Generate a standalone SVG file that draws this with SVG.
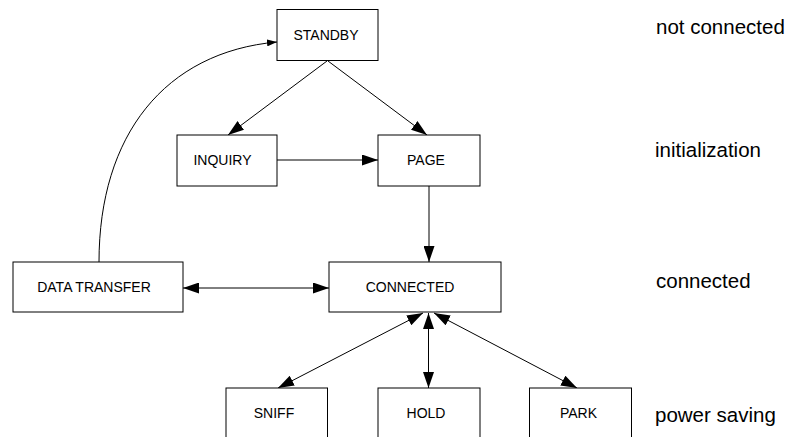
<svg xmlns="http://www.w3.org/2000/svg" width="785" height="437" viewBox="0 0 785 437">
  <style>
    .box { fill: #fff; stroke: #000; stroke-width: 1; }
    .lbl { font-family: "Liberation Sans", Arial, sans-serif; font-size: 14px; fill: #000; text-anchor: middle; }
    .side { font-family: "Liberation Sans", Arial, sans-serif; font-size: 20.5px; fill: #000; }
    .edge { fill: none; stroke: #000; stroke-width: 1; }
  </style>
  <defs>
    <marker id="arr" markerUnits="userSpaceOnUse" markerWidth="16" markerHeight="11" refX="16" refY="5.5" orient="auto-start-reverse">
      <path d="M0,0 L16,5.5 L0,11 z" fill="#000"/>
    </marker>
    <marker id="arr-small" markerUnits="userSpaceOnUse" markerWidth="10" markerHeight="7" refX="10" refY="3.5" orient="auto">
      <path d="M0,0 L10,3.5 L0,7 z" fill="#000"/>
    </marker>
  </defs>
  <rect width="785" height="437" fill="#fff"/>

  <!-- connectors -->
  <g id="connectors">
    <path class="edge" d="M99,262 C99,135 165,52 277,42" marker-end="url(#arr-small)"/>
    <line class="edge" x1="327" y1="61" x2="228" y2="135" marker-end="url(#arr)"/>
    <line class="edge" x1="328" y1="61" x2="427" y2="135" marker-end="url(#arr)"/>
    <line class="edge" x1="277" y1="160" x2="378" y2="160" marker-end="url(#arr)"/>
    <line class="edge" x1="429" y1="186" x2="429" y2="262" marker-end="url(#arr)"/>
    <line class="edge" x1="183" y1="288" x2="329" y2="288" marker-start="url(#arr)" marker-end="url(#arr)"/>
    <line class="edge" x1="423" y1="313" x2="278" y2="388" marker-start="url(#arr)" marker-end="url(#arr)"/>
    <line class="edge" x1="428.5" y1="313" x2="428.5" y2="388" marker-start="url(#arr)" marker-end="url(#arr)"/>
    <line class="edge" x1="434" y1="313" x2="577" y2="388" marker-start="url(#arr)" marker-end="url(#arr)"/>
  </g>

  <!-- states -->
  <g id="standby">
    <rect class="box" x="277" y="9.5" width="101" height="51"/>
    <text class="lbl" x="326" y="39.5">STANDBY</text>
  </g>
  <g id="inquiry">
    <rect class="box" x="177" y="135" width="100" height="51"/>
    <text class="lbl" x="222.5" y="164.5">INQUIRY</text>
  </g>
  <g id="page">
    <rect class="box" x="378" y="135" width="102" height="51"/>
    <text class="lbl" x="426" y="164.5">PAGE</text>
  </g>
  <g id="data-transfer">
    <rect class="box" x="13" y="262" width="170" height="50"/>
    <text class="lbl" x="94" y="292">DATA TRANSFER</text>
  </g>
  <g id="connected">
    <rect class="box" x="329" y="262" width="172" height="50"/>
    <text class="lbl" x="410" y="292">CONNECTED</text>
  </g>
  <g id="sniff">
    <rect class="box" x="226" y="388" width="101.5" height="52"/>
    <text class="lbl" x="274" y="417.5">SNIFF</text>
  </g>
  <g id="hold">
    <rect class="box" x="378" y="388" width="102" height="52"/>
    <text class="lbl" x="426" y="417.5">HOLD</text>
  </g>
  <g id="park">
    <rect class="box" x="529.5" y="388" width="102" height="52"/>
    <text class="lbl" x="578.5" y="417.5">PARK</text>
  </g>

  <!-- layer captions -->
  <g id="captions">
    <text class="side" x="656" y="34">not connected</text>
    <text class="side" x="655" y="157">initialization</text>
    <text class="side" x="656" y="288">connected</text>
    <text class="side" x="655" y="422">power saving</text>
  </g>
</svg>
